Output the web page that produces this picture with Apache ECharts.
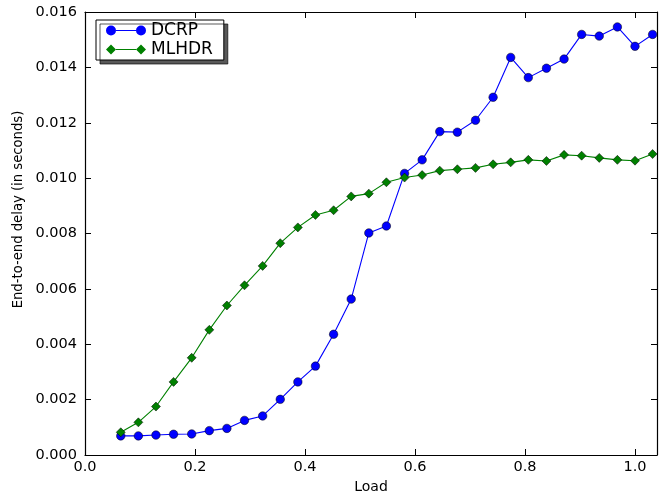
<!DOCTYPE html>
<html>
<head>
<meta charset="utf-8">
<script src="https://cdn.jsdelivr.net/npm/echarts@6/dist/echarts.min.js"></script>
<style>html,body{margin:0;padding:0;background:#fff;}#c{width:664px;height:495px;}</style>
</head>
<body>
<div id="c"></div>
<script>
var loads = [0.065,0.097,0.129,0.161,0.194,0.226,0.258,0.290,0.323,0.355,0.387,0.419,0.452,0.484,0.516,0.548,0.581,0.613,0.645,0.677,0.710,0.742,0.774,0.806,0.839,0.871,0.903,0.935,0.968,1.000,1.032];
var dcrp = [0.00069,0.00069,0.00072,0.00075,0.00076,0.00088,0.00096,0.00125,0.00141,0.00201,0.00264,0.00321,0.00436,0.00563,0.00802,0.00827,0.01017,0.01066,0.01168,0.01166,0.01209,0.01292,0.01436,0.01363,0.01397,0.01430,0.01519,0.01513,0.01546,0.01476,0.01519];
var mlhdr = [0.00082,0.00118,0.00175,0.00264,0.00351,0.00452,0.00540,0.00613,0.00683,0.00765,0.00822,0.00867,0.00884,0.00934,0.00944,0.00985,0.01002,0.01011,0.01027,0.01032,0.01037,0.01050,0.01057,0.01066,0.01062,0.01084,0.01081,0.01073,0.01066,0.01063,0.01087];
var seriesNames = ['DCRP','MLHDR'];
var xTitle = 'Load';
var yTitle = 'End-to-end delay (in seconds)';

function pairs(xs, ys){ return xs.map(function(x,i){ return [x, ys[i]]; }); }
var FONT = 'DejaVu Sans';
var chart = echarts.init(document.getElementById('c'), null, {renderer:'canvas'});
var axisCommon = {
  axisLine:{show:true, onZero:false, lineStyle:{color:'#000', width:1.2}},
  axisTick:{show:true, inside:true, length:6, lineStyle:{color:'#000', width:1}},
  splitLine:{show:false}
};
var iconCircle = 'path://M0,5A5,5 0 1,1 10,5A5,5 0 1,1 0,5ZM10,4.5L30,4.5L30,5.5L10,5.5ZM30,5A5,5 0 1,1 40,5A5,5 0 1,1 30,5Z';
var iconDiamond = 'path://M0,5L5,0L10,5L5,10ZM10,4.5L30,4.5L30,5.5L10,5.5ZM30,5L35,0L40,5L35,10Z';
chart.setOption({
  animation:false,
  backgroundColor:'#fff',
  grid:{left:85, top:12, width:572, height:443, containLabel:false, outerBoundsMode:'none'},
  legend:{
    orient:'vertical', left:96, top:20,
    padding:[2,11,2,10], itemGap:2, itemWidth:40, itemHeight:10,
    backgroundColor:'#fff', borderColor:'#000', borderWidth:1,
    shadowColor:'rgba(0,0,0,0.65)', shadowOffsetX:4, shadowOffsetY:4, shadowBlur:0,
    textStyle:{fontFamily:FONT, fontSize:17, color:'#000'},
    data:[
      {name:seriesNames[0], icon:iconCircle, itemStyle:{color:'#0000ff', borderWidth:0}},
      {name:seriesNames[1], icon:iconDiamond, itemStyle:{color:'#008000', borderWidth:0}}
    ]
  },
  xAxis:[
    Object.assign({type:'value', position:'bottom', min:0, max:1.04, interval:0.2,
      name:xTitle, nameLocation:'middle', nameGap:22,
      nameTextStyle:{fontFamily:FONT, fontSize:14, color:'#000'},
      axisLabel:{show:true, showMaxLabel:false, margin:5, fontFamily:FONT, fontSize:14.5, color:'#000',
        formatter:function(v){ return v.toFixed(1); }}}, axisCommon),
    Object.assign({type:'value', position:'top', min:0, max:1.04, interval:0.2,
      axisLabel:{show:false}}, axisCommon)
  ],
  yAxis:[
    Object.assign({type:'value', position:'left', min:0, max:0.016, interval:0.002,
      name:yTitle, nameLocation:'middle', nameGap:56, nameRotate:90,
      nameTextStyle:{fontFamily:FONT, fontSize:13.2, color:'#000', padding:[0,0,0,48]},
      axisLabel:{show:true, margin:8, fontFamily:FONT, fontSize:14.5, color:'#000',
        formatter:function(v){ return v.toFixed(3); }}}, axisCommon),
    Object.assign({type:'value', position:'right', min:0, max:0.016, interval:0.002,
      axisLabel:{show:false}}, axisCommon)
  ],
  series:[
    {name:seriesNames[0], type:'line', data:pairs(loads, dcrp), xAxisIndex:0, yAxisIndex:0,
      symbol:'circle', symbolSize:8.5, showAllSymbol:true,
      lineStyle:{color:'#0000ff', width:1.1},
      itemStyle:{color:'#0000ff', borderColor:'#000', borderWidth:0.5}},
    {name:seriesNames[1], type:'line', data:pairs(loads, mlhdr), xAxisIndex:0, yAxisIndex:0,
      symbol:'diamond', symbolSize:9, showAllSymbol:true,
      lineStyle:{color:'#008000', width:1.1},
      itemStyle:{color:'#008000', borderColor:'#000', borderWidth:0.5}}
  ]
});
</script>
</body>
</html>
